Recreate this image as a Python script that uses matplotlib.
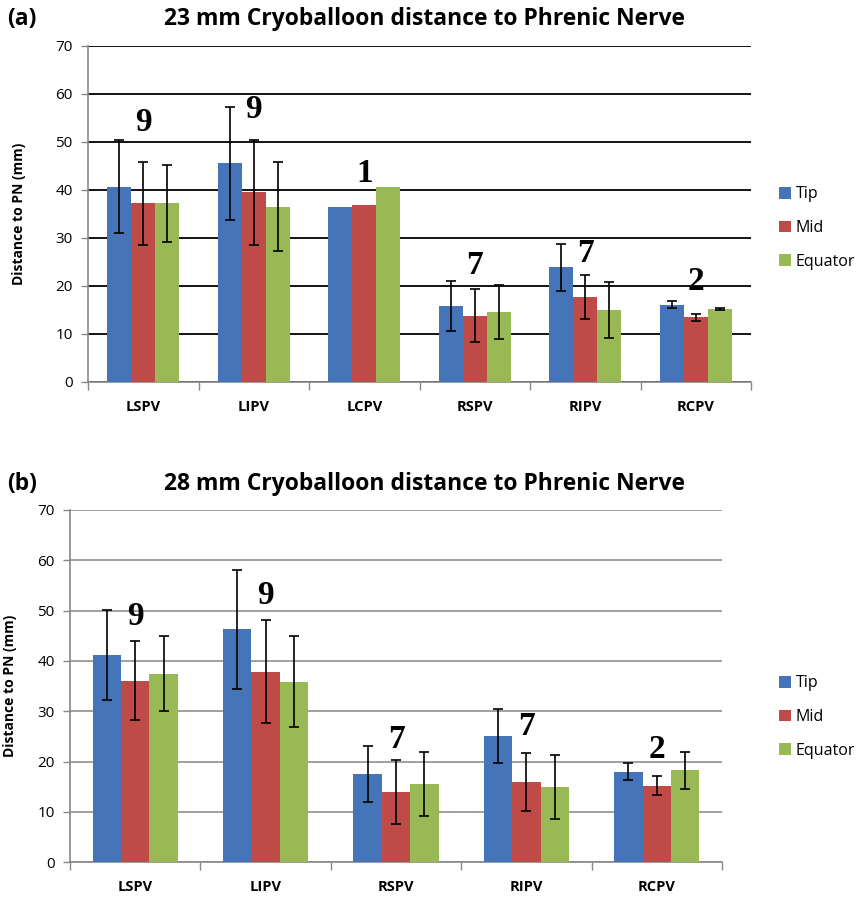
import matplotlib
matplotlib.use("Agg")
import matplotlib.pyplot as plt
import numpy as np
from matplotlib.patches import Patch

series = ["Tip", "Mid", "Equator"]
colors = ["#4674B9", "#BE4B48", "#98B954"]

# Panel (a): 23 mm
cats_a = ["LSPV", "LIPV", "LCPV", "RSPV", "RIPV", "RCPV"]
tip_a = [40.7, 45.5, 36.5, 15.8, 23.9, 16.1]
mid_a = [37.2, 39.5, 36.8, 13.8, 17.6, 13.4]
eq_a = [37.2, 36.5, 40.5, 14.6, 14.9, 15.2]
tip_err_a = [9.6, 11.8, 0, 5.2, 4.9, 0.75]
mid_err_a = [8.7, 11.0, 0, 5.5, 4.6, 0.65]
eq_err_a = [8.0, 9.3, 0, 5.6, 5.8, 0.2]
n_a = ["9", "9", "1", "7", "7", "2"]
n_a_y = [54.0, 56.7, 43.5, 24.2, 26.8, 21.0]

# Panel (b): 28 mm
cats_b = ["LSPV", "LIPV", "RSPV", "RIPV", "RCPV"]
tip_b = [41.2, 46.3, 17.5, 25.1, 18.0]
mid_b = [36.1, 37.9, 14.0, 16.0, 15.2]
eq_b = [37.5, 35.9, 15.5, 14.9, 18.3]
tip_err_b = [8.9, 11.8, 5.6, 5.45, 1.7]
mid_err_b = [7.8, 10.2, 6.4, 5.8, 1.9]
eq_err_b = [7.5, 9.0, 6.35, 6.35, 3.65]
n_b = ["9", "9", "7", "7", "2"]
n_b_y = [48.8, 53.1, 24.3, 26.9, 22.5]

yticks = [0, 10, 20, 30, 40, 50, 60, 70]

plt.rcParams['font.family'] = ['Open Sans', 'DejaVu Sans']

fig = plt.figure(figsize=(8.58, 8.98), dpi=100)

def draw(ax, cats, vals, errs, ns, ny, gridcolor, title, tag, legend_y, tagx, ylab_x, title_y):
    x = np.arange(len(cats))
    w = 0.218
    for i, (v, e, c, name) in enumerate(zip(vals, errs, colors, series)):
        pos = x + (i - 1) * w
        ax.bar(pos, v, width=w, color=c, label=name, zorder=3)
        e_arr = np.array(e, dtype=float)
        mask = e_arr > 0
        ax.errorbar(pos[mask], np.array(v)[mask], yerr=e_arr[mask], fmt='none',
                    ecolor='black', elinewidth=1.2, capsize=3.5, capthick=1.2, zorder=4)
    for xi, t, yy in zip(x, ns, ny):
        ax.text(xi, yy, t, ha='center', va='center', fontsize=24, fontweight='bold',
                family='Liberation Serif', zorder=5)
    ax.set_xlim(-0.5, len(cats) - 0.5)
    ax.set_ylim(0, 70)
    ax.set_yticks(yticks)
    ax.set_yticklabels([str(t) for t in yticks], fontsize=11)
    ax.yaxis.grid(True, color=gridcolor, linewidth=1.3, zorder=0)
    ax.set_axisbelow(True)
    ax.set_xticks(x)
    ax.set_xticklabels(cats, fontsize=10.5, fontweight='bold')
    ax.set_xticks(np.arange(len(cats) + 1) - 0.5, minor=True)
    ax.tick_params(axis='x', which='major', length=0, pad=13)
    ax.tick_params(axis='x', which='minor', length=6, color='#888888', width=1)
    ax.tick_params(axis='y', length=5, color='#888888', width=1, pad=6)
    for s in ['top', 'right']:
        ax.spines[s].set_visible(False)
    for s in ['left', 'bottom']:
        ax.spines[s].set_color('#888888')
        ax.spines[s].set_linewidth(1.2)
    ax.set_ylabel("Distance to PN (mm)", fontsize=10, fontweight='bold')
    ax.yaxis.set_label_coords(ylab_x, 0.5)
    fig.text(0.495, title_y, title, fontsize=16.5, fontweight='bold', ha='center', va='center')
    fig.text(tagx, title_y, tag, fontsize=16.5, fontweight='bold', ha='left', va='center')
    handles = [Patch(facecolor=c, label=s) for c, s in zip(colors, series)]
    fig.legend(handles=handles, loc='center left', bbox_to_anchor=(0.908, legend_y),
               frameon=False, fontsize=11.5, handlelength=0.75, handleheight=0.75,
               handletextpad=0.3, labelspacing=1.1, borderaxespad=0, borderpad=0)

ax1 = fig.add_axes([0.1026, 0.5749, 0.7727, 0.3739])
draw(ax1, cats_a, [tip_a, mid_a, eq_a], [tip_err_a, mid_err_a, eq_err_a], n_a, n_a_y,
     'black', "23 mm Cryoballoon distance to Phrenic Nerve", "(a)", 1 - 228/898, 0.008,
     -0.093, 1 - 19/898)

ax2 = fig.add_axes([0.0816, 0.0398, 0.7599, 0.3923])
draw(ax2, cats_b, [tip_b, mid_b, eq_b], [tip_err_b, mid_err_b, eq_err_b], n_b, n_b_y,
     '#999999', "28 mm Cryoballoon distance to Phrenic Nerve", "(b)", 1 - 717/898, 0.008,
     -0.082, 1 - 484/898)

fig.savefig("out.png", dpi=100)
